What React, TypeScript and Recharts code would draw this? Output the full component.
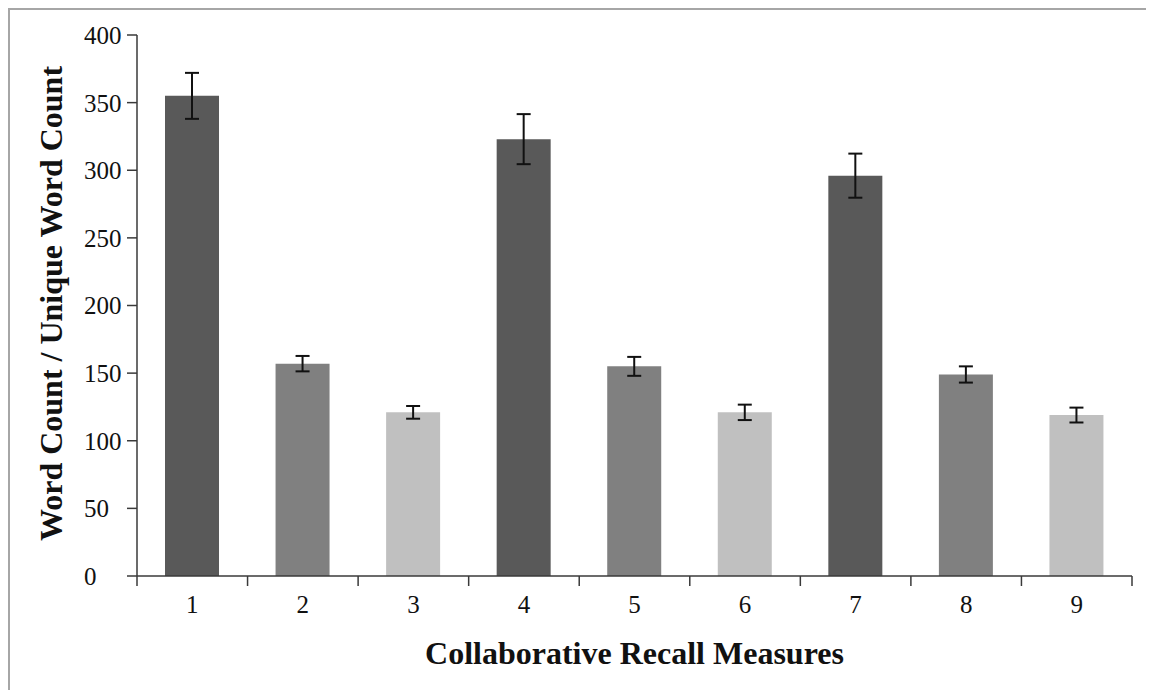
import React from 'react';
import { BarChart, Bar, XAxis, YAxis, ErrorBar, Cell, Label } from 'recharts';

const categories = ['1', '2', '3', '4', '5', '6', '7', '8', '9'];
const values = [355, 157, 121, 323, 155, 121, 296, 149, 119];
const errors = [17, 5.7, 4.7, 18.5, 7, 5.7, 16.3, 6, 5.5];
const yTicks = [0, 50, 100, 150, 200, 250, 300, 350, 400];
const palette = ['#595959', '#808080', '#c0c0c0'];

const data = categories.map((c, i) => ({ cat: c, value: values[i], err: errors[i] }));

const FONT = '"Liberation Serif", "Times New Roman", serif';
const AXIS = '#3a3a3a';
const CHART_W = 1144;
const CHART_H = 680;
const MARGIN = { top: 25, right: 22, left: 0, bottom: 0 };
const Y_W = 127;
const X_H = 114;
const PLOT_W = CHART_W - MARGIN.right - MARGIN.left - Y_W;

const XTick = (p: any) => {
  const { x, y, payload, index } = p;
  const half = payload && payload.offset > 0 ? payload.offset : PLOT_W / categories.length / 2;
  const top = y - 19;
  return (
    <g>
      <line x1={x - half} x2={x - half} y1={top} y2={top + 10} stroke={AXIS} strokeWidth={1.5} />
      {index === categories.length - 1 && (
        <line x1={x + half} x2={x + half} y1={top} y2={top + 10} stroke={AXIS} strokeWidth={1.5} />
      )}
      <text x={x} y={y} dy="0.71em" textAnchor="middle" fontFamily={FONT} fontSize={25} fill="#111">
        {payload.value}
      </text>
    </g>
  );
};

const YTick = (p: any) => {
  const { x, y, payload } = p;
  return (
    <text x={x - 39} y={y} dy="0.355em" textAnchor="start" fontFamily={FONT} fontSize={25} fill="#111">
      {payload.value}
    </text>
  );
};

const YTitle = (p: any) => {
  const vb = p.viewBox || { x: 0, y: 0, width: 0, height: 0 };
  const cx = vb.x + 52;
  const cy = vb.y + vb.height / 2 - 2;
  return (
    <text
      x={cx}
      y={cy}
      transform={`rotate(-90 ${cx} ${cy})`}
      textAnchor="middle"
      fontFamily={FONT}
      fontWeight="bold"
      fontSize={32}
      fill="#111"
    >
      Word Count / Unique Word Count
    </text>
  );
};

const XTitle = (p: any) => {
  const vb = p.viewBox || { x: 0, y: 0, width: 0, height: 0 };
  const cx = vb.x + vb.width / 2;
  return (
    <text x={cx} y={vb.y + 88} textAnchor="middle" fontFamily={FONT} fontWeight="bold" fontSize={32} fill="#111">
      Collaborative Recall Measures
    </text>
  );
};

export default function App() {
  return (
    <div
      style={{
        width: 1146,
        height: 682,
        borderTop: '2px solid #a6a6a6',
        borderLeft: '2px solid #a6a6a6',
        boxSizing: 'border-box',
        background: '#fff',
      }}
    >
      <BarChart width={CHART_W} height={CHART_H} data={data} margin={MARGIN} barSize={54}>
        <XAxis
          dataKey="cat"
          height={X_H}
          interval={0}
          tickSize={10}
          tickMargin={9}
          tickLine={false}
          axisLine={{ stroke: AXIS, strokeWidth: 1.5 }}
          tick={<XTick />}
        >
          <Label content={<XTitle />} />
        </XAxis>
        <XAxis
          xAxisId="top"
          orientation="top"
          dataKey="cat"
          height={0}
          tick={false}
          tickLine={false}
          axisLine={{ stroke: '#c8c8c8', strokeWidth: 1.5 }}
        />
        <YAxis
          width={Y_W}
          domain={[0, 400]}
          ticks={yTicks}
          interval={0}
          tickSize={10}
          tickMargin={4}
          tickLine={{ stroke: AXIS, strokeWidth: 1.5 }}
          axisLine={{ stroke: AXIS, strokeWidth: 1.5 }}
          tick={<YTick />}
        >
          <Label content={<YTitle />} />
        </YAxis>
        <YAxis
          yAxisId="right"
          orientation="right"
          width={0}
          domain={[0, 400]}
          tick={false}
          tickLine={false}
          axisLine={{ stroke: '#c8c8c8', strokeWidth: 1.5 }}
        />
        <Bar dataKey="value" isAnimationActive={false}>
          {data.map((d, i) => (
            <Cell key={d.cat} fill={palette[i % 3]} />
          ))}
          <ErrorBar dataKey="err" width={7} stroke="#111" strokeWidth={2} isAnimationActive={false} />
        </Bar>
      </BarChart>
    </div>
  );
}
